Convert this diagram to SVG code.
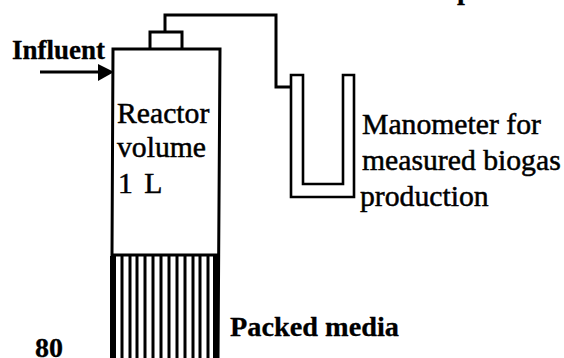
<svg xmlns="http://www.w3.org/2000/svg" width="564" height="358" viewBox="0 0 564 358">
<style>
text{font-family:"Liberation Serif","Times New Roman",serif;font-size:29.7px;fill:#000;stroke:#000;stroke-width:.5px}
.b{font-weight:bold;font-size:28px;stroke-width:.3px}
.l{fill:none;stroke:#000;stroke-width:3}
.m{fill:none;stroke:#000;stroke-width:2.6}
</style>
<rect width="564" height="358" fill="#fff"/>
<g id="connectors">
<path class="l" d="M165 32V15H276V87H291"/>
<path d="M40 72H100" stroke="#000" stroke-width="3" fill="none"/>
<path d="M98 64L114 72L98 81Z" fill="#000"/>
</g>
<g id="reactor">
<path class="l" d="M111.500 358L113 49H220L218 358"/>
<path class="l" d="M150 48V32H182V48"/>
<path class="l" d="M112 255H219"/>
<path d="M110 256H116V358H110ZM213 256H219V358H213Z" fill="#000"/>
<path fill="none" stroke="#000" stroke-width="3" d="M122 256V358M130 256V358M137 256V358M145 256V358M153 256V358M161 256V358M169 256V358M177 256V358M185 256V358M193 256V358M200 256V358M208 256V358"/>
<text x="117" y="123">Reactor</text>
<text x="117" y="157">volume</text>
<text x="118" y="193" font-size="27" word-spacing="4">1 L</text>
</g>
<g id="manometer">
<path class="m" d="M291 197V75H303V184H343V75H354V197Z"/>
<text x="362" y="134">Manometer for</text>
<text x="362" y="170" font-size="29.300">measured biogas</text>
<text x="360" y="206">production</text>
</g>
<g id="labels">
<text class="b" x="12" y="59" style="font-size:27px">Influent</text>
<text class="b" x="230" y="336" style="font-size:28.300px">Packed media</text>
<text class="b" x="35" y="357">80</text>
<text class="b" x="457" y="-1">p</text>
</g>
</svg>
